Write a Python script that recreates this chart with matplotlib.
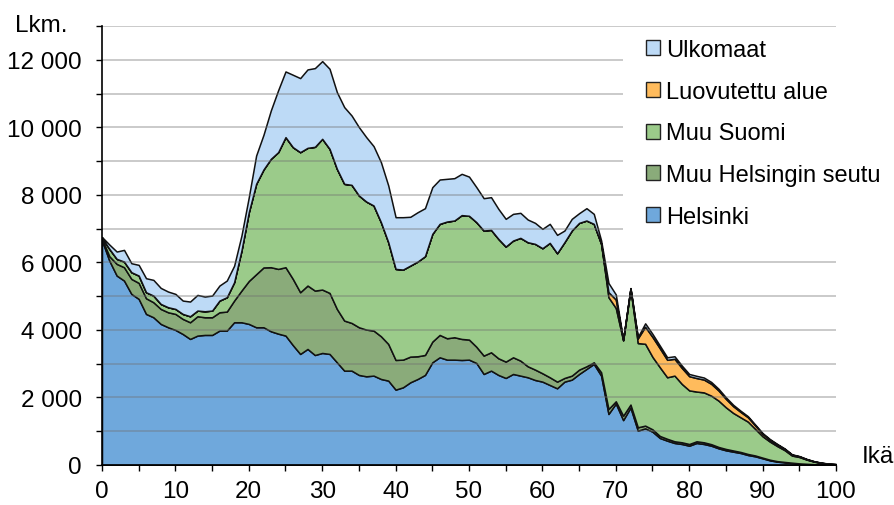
import matplotlib
matplotlib.use("Agg")
import matplotlib.pyplot as plt
from matplotlib.patches import Rectangle
from matplotlib.ticker import MultipleLocator, FuncFormatter
import numpy as np

plt.rcParams['font.family'] = ['Liberation Sans', 'DejaVu Sans']

ages = list(range(0, 101))

helsinki = [6650, 6050, 5610, 5462, 5067, 4919, 4474, 4375, 4178, 4079,
            4000, 3880, 3733, 3832, 3852, 3852, 3980, 3980, 4227, 4227,
            4178, 4079, 4079, 3960, 3890, 3833, 3550, 3289, 3437, 3257,
            3318, 3289, 3042, 2795, 2795, 2667, 2627, 2647, 2548, 2499,
            2232, 2301, 2449, 2548, 2667, 3042, 3190, 3120, 3120, 3110,
            3120, 3022, 2696, 2795, 2667, 2578, 2696, 2647, 2598, 2518,
            2469, 2370, 2272, 2469, 2528, 2696, 2844, 2993, 2647, 1511,
            1820, 1330, 1700, 1017, 1086, 986, 800, 721, 652, 622,
            572, 652, 622, 572, 494, 435, 395, 356, 296, 257,
            198, 138, 99, 79, 59, 40, 30, 20, 12, 8, 5]

muu_helsingin_seutu = [50, 133, 346, 395, 444, 474, 464, 445, 444, 444,
                       474, 446, 494, 573, 523, 523, 543, 563, 642, 939,
                       1272, 1571, 1771, 1897, 1917, 2024, 1961, 1827, 1877, 1908,
                       1877, 1807, 1580, 1482, 1412, 1412, 1383, 1333, 1265, 1086,
                       879, 819, 761, 672, 592, 612, 662, 633, 663, 623,
                       594, 480, 544, 543, 493, 484, 494, 444, 325, 307,
                       247, 228, 197, 109, 119, 129, 79, 49, 99, 148,
                       67, 130, 90, 100, 80, 70, 60, 55, 50, 50,
                       50, 50, 50, 45, 40, 40, 35, 30, 30, 25,
                       20, 18, 15, 12, 10, 8, 6, 5, 4, 3, 2]

muu_suomi = [30, 217, 148, 168, 198, 217, 178, 197, 148, 149,
             148, 148, 178, 168, 178, 198, 346, 425, 543, 1184,
             2036, 2676, 2901, 3210, 3457, 3852, 3901, 4148, 4078, 4257,
             4464, 4267, 4148, 4049, 4089, 3901, 3792, 3704, 3377, 3012,
             2696, 2667, 2696, 2805, 2924, 3190, 3289, 3457, 3457, 3667,
             3666, 3690, 3703, 3625, 3536, 3407, 3457, 3635, 3674, 3723,
             3704, 3980, 3802, 4019, 4296, 4345, 4317, 4099, 3804, 3311,
             2763, 2230, 3425, 2493, 2424, 2144, 2034, 1822, 1945, 1728,
             1588, 1473, 1478, 1437, 1372, 1233, 1111, 1026, 958, 785,
             632, 536, 446, 349, 211, 189, 124, 75, 44, 24, 15]

luovutettu_alue = [0] * 69 + [150, 250, 10, 10, 140, 505, 590, 562, 517, 498, 473,
                              420, 400, 380, 350, 300, 250, 200, 160, 130, 100,
                              70, 55, 45, 35, 25, 18, 12, 8, 5, 3, 2]

ulkomaat = [20, 128, 217, 345, 266, 316, 415, 465, 474, 464,
            445, 395, 435, 464, 435, 444, 445, 494, 488, 445,
            445, 839, 1027, 1432, 1836, 1945, 2144, 2193, 2322, 2331,
            2301, 2370, 2272, 2272, 2054, 2025, 1907, 1758, 1778, 1679,
            1531, 1551, 1444, 1461, 1422, 1383, 1313, 1264, 1254, 1222,
            1160, 1037, 958, 968, 889, 820, 790, 741, 672, 622,
            573, 563, 544, 346, 346, 287, 365, 296, 100, 270,
            150, 15, 15, 40, 100, 90, 80, 75, 75, 70,
            65, 65, 60, 55, 50, 45, 40, 35, 30, 28,
            25, 20, 18, 15, 12, 10, 8, 6, 5, 4, 3]

labels = ["Helsinki", "Muu Helsingin seutu", "Muu Suomi", "Luovutettu alue", "Ulkomaat"]
colors = ["#6fa8dc", "#8aab7a", "#9bcb8a", "#ffbb5c", "#bddaf6"]

FS = 17.5
fig = plt.figure(figsize=(8.95, 5.06), dpi=100)
W, H = 895, 506
ax = fig.add_axes([102 / W, 40 / H, (836 - 102) / W, (466 - 27) / H])

polys = ax.stackplot(ages, helsinki, muu_helsingin_seutu, muu_suomi,
                     luovutettu_alue, ulkomaat, colors=colors, labels=labels,
                     edgecolor="#111111", linewidth=1.1, zorder=2)

ax.set_xlim(0, 100)
ax.set_ylim(0, 13000)

# gridlines on top of fills
for v in range(1000, 13001, 1000):
    ax.axhline(v, color="#707070", alpha=0.4, lw=1.3, zorder=3)

ax.xaxis.set_major_locator(MultipleLocator(10))
ax.xaxis.set_minor_locator(MultipleLocator(5))
ax.yaxis.set_major_locator(MultipleLocator(2000))
ax.yaxis.set_minor_locator(MultipleLocator(1000))
ax.yaxis.set_major_formatter(FuncFormatter(lambda v, p: f"{int(v):,}".replace(",", " ")))

ax.tick_params(axis="both", which="both", direction="out", length=4.5, width=1.0,
               color="black", labelsize=FS)
ax.tick_params(axis="y", which="major", pad=10)
ax.tick_params(axis="x", which="major", pad=6)

for s in ["top", "right"]:
    ax.spines[s].set_visible(False)
for s in ["left", "bottom"]:
    ax.spines[s].set_linewidth(1.2)
    ax.spines[s].set_zorder(6)

fig.text(15 / W, 1 - 32 / H, "Lkm.", fontsize=FS, va="baseline", ha="left")
fig.text(862 / W, 1 - 463 / H, "Ikä", fontsize=FS, va="baseline", ha="left")

# white background behind legend
bg = Rectangle((623 / W, 1 - 242 / H), (W - 623) / W, (242 - 33) / H,
               transform=fig.transFigure, facecolor="white", edgecolor="none",
               zorder=10, clip_on=False)
ax.add_patch(bg)

handles, labs = ax.get_legend_handles_labels()
leg = ax.legend(handles[::-1], labs[::-1], loc="upper left",
                bbox_to_anchor=(641 / W, 1 - 35.5 / H), bbox_transform=fig.transFigure,
                frameon=False, fontsize=17, handlelength=0.6, handleheight=0.6,
                handletextpad=0.25, labelspacing=0.83, borderaxespad=0, borderpad=0.2)
leg.set_zorder(20)
for p in leg.get_patches():
    p.set_linewidth(1.0)
    p.set_edgecolor("#222222")

fig.savefig("out.png", dpi=100)
